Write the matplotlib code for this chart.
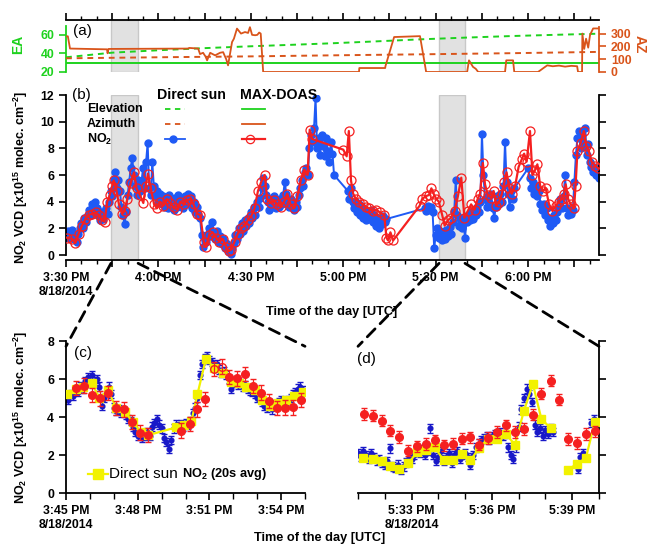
import numpy as np
import matplotlib
matplotlib.use('Agg')
import matplotlib.pyplot as plt
import matplotlib.dates as mdates
from matplotlib.patches import ConnectionPatch
from matplotlib.ticker import FuncFormatter, FixedLocator

plt.rcParams['font.family'] = ['Liberation Sans', 'DejaVu Sans']
plt.rcParams['mathtext.fontset'] = 'custom'
plt.rcParams['mathtext.rm'] = 'Liberation Sans'
plt.rcParams['mathtext.bf'] = 'Liberation Sans:bold'
plt.rcParams['mathtext.it'] = 'Liberation Sans:italic'

# ---------------- DATA ----------------
BASE_B = np.datetime64('2014-08-18T15:30')   # panel (a)/(b) time origin (minutes)
BASE_C = np.datetime64('2014-08-18T15:45')   # panel (c)
BASE_D = np.datetime64('2014-08-18T17:31')   # panel (d)

# (a) MAX-DOAS elevation (constant) and direct-sun elevation / azimuth
maxdoas_ea_t = [0, 173]
maxdoas_ea = [30, 30]
sun_ea_t = [0, 15, 30, 45, 60, 75, 86, 100, 115, 130, 145, 160, 173]
sun_ea = [35.9, 40.9, 43.5, 45.8, 47.8, 49.6, 51.0, 53.0, 55.3, 57.2, 58.9, 60.3, 61.4]
sun_az_t = [0, 30, 60, 86, 115, 145, 173]
sun_az = [107, 115, 122, 130, 138, 147, 157]
maxdoas_az_t = [0, 0.6, 1.3, 13.3, 13.5, 13.8, 39.6, 40, 42.9, 43.5, 44.5, 45.3, 45.8, 46.8,
                48.4, 50, 51, 52, 52.6, 53.9, 54.5, 55.5, 56.8, 58.1, 59.1, 59.7, 60.4, 61.4,
                62.1, 62.7, 63.2, 64, 95.1, 95.2, 103.6, 103.7, 106.5, 114.9, 116.9, 130.2,
                130.8, 132.1, 133, 133.8, 142.5, 142.9, 145.1, 145.5, 153.2, 156.2, 158, 160,
                162, 164, 165.9, 166.2, 167.5, 167.6, 168.2, 168.8, 169.5, 170.1, 171.1, 173]
maxdoas_az = [279, 279, 183, 177, 146, 180, 183, 188, 183, 140, 150, 120, 91, 150,
              130, 150, 155, 100, 52, 234, 260, 339, 300, 312, 305, 350, 290, 287,
              290, 308, 300, 0, 0, 31, 31, 47, 273, 280, 0, 0,
              91, 40, 25, 0, 0, 91, 91, 0, 0, 52, 45, 50,
              42, 48, 45, 0, 0, 300, 180, 260, 190, 290, 340, 340]

# (b) direct sun NO2 VCD, segments sampled every 0.5 min
ds_seg_start = [0.0, 91.5, 116.5, 150.0]
ds_seg_vals = [
    [1.5, 1.8, 1.3, 1.6, 1.9, 1.2, 1.4, 1.0, 1.6, 2.0, 2.4, 2.0, 2.8, 2.5, 3.0, 3.4, 3.0, 3.8,
     3.2, 4.0, 3.5, 3.0, 2.6, 3.2, 2.7, 3.3, 3.5, 3.1, 4.0, 4.8, 4.4, 5.6, 6.2, 5.0, 5.6, 4.8,
     3.6, 3.0, 2.3, 3.2, 4.5, 5.5, 6.5, 7.3, 6.0, 5.2, 4.5, 5.6, 4.8, 5.5, 6.5, 5.0, 7.0, 8.4,
     5.0, 4.5, 7.0, 5.2, 4.4, 4.8, 4.0, 4.6, 3.8, 4.4, 3.6, 4.2, 3.5, 4.5, 3.8, 4.0, 3.4, 4.3,
     3.6, 4.5, 3.8, 4.2, 3.5, 4.4, 3.9, 4.6, 3.8, 4.4, 3.5, 4.0, 3.2, 3.6, 3.0, 2.8, 1.5, 0.6,
     1.2, 1.0, 1.6, 2.0, 1.4, 2.5, 1.6, 1.2, 1.8, 1.0, 1.4, 0.8, 1.2, 0.5, 0.9, 0.3, 0.7, 0.1,
     0.5, 0.9, 1.5, 1.2, 2.0, 1.6, 2.4, 1.8, 2.6, 2.2, 2.8, 2.4, 3.2, 2.8, 3.6, 3.0, 4.0, 3.6,
     4.3, 5.0, 5.8, 5.2, 4.5, 4.0, 3.4, 4.2, 3.6, 4.4, 3.5, 4.0, 3.6, 4.2, 3.8, 4.5, 5.5, 4.6,
     4.0, 3.6, 4.2, 3.7, 3.4, 4.0, 3.6, 4.5, 5.0, 5.6, 5.2, 6.2, 6.5, 6.0, 8.0, 9.0, 8.5, 9.5,
     11.8, 8.0, 8.8, 7.5, 9.0, 8.2, 7.4, 8.8, 7.8, 7.0, 8.5, 7.6, 6.0],
    [4.8, 4.2, 5.0, 4.0, 3.5, 4.0, 3.2, 3.8, 3.0, 3.6, 2.8, 3.4, 2.6, 3.2, 2.7, 3.4, 2.5, 3.0,
     2.2, 2.8, 2.0, 2.6, 2.3, 2.9, 2.5, 2.7],
    [3.5, 3.3, 3.7, 3.4, 3.6, 3.2, 0.5, 1.5, 2.0, 1.3, 1.8, 1.1, 1.6, 1.2, 1.9, 1.4, 2.1, 1.6,
     2.5, 3.2, 5.6, 3.0, 2.2, 2.8, 2.0, 2.6, 1.3, 2.5, 3.0, 2.6, 3.2, 2.7, 3.4, 3.0, 3.6, 3.2,
     4.0, 9.1, 6.0, 4.2, 3.6, 4.4, 3.8, 4.6, 3.5, 2.8, 3.6, 4.4, 3.8, 4.6, 4.0, 5.2, 8.5, 5.5,
     4.6, 3.6, 4.8, 4.2, 5.0],
    [6.5, 5.8, 5.0, 5.5, 4.6, 5.2, 4.4, 4.8, 3.8, 3.4, 3.8, 3.0, 3.5, 2.6, 2.2, 2.8, 2.4, 3.0,
     2.6, 3.2, 3.6, 4.2, 3.5, 4.4, 6.0, 3.5, 3.0, 3.4, 3.1, 3.4, 5.5, 7.5, 8.8, 9.3, 8.0, 9.0,
     8.2, 9.5, 7.5, 8.3, 7.0, 6.6, 6.2, 6.6, 6.0, 6.4, 5.8],
]

# (b) MAX-DOAS NO2 VCD
md_t = [0.3, 2.0, 3.0, 4.1, 5.2, 6.3, 7.4, 8.5, 9.6, 10.7, 11.7, 12.5, 13.4, 14.2, 15.0, 15.5,
        16.4, 17.2, 18.3, 19.0, 19.9, 21.0, 22.1, 22.9, 24.0, 25.1, 25.9, 26.6, 27.5, 28.6,
        29.5, 30.5, 31.6, 32.7, 33.8, 34.9, 36.0, 37.1, 38.2, 39.2, 40.3, 41.4, 42.5, 43.6,
        44.7, 45.4, 46.5, 47.6, 48.7, 49.8, 50.9, 52.0, 52.8, 53.6, 54.7, 55.8, 56.8, 57.9,
        59.0, 60.1, 61.2, 62.3, 63.4, 64.5, 65.3, 66.4, 67.5, 68.6, 69.7, 70.8, 71.8, 72.9,
        74.0, 75.1, 76.2, 77.3, 78.4, 79.1, 79.9, 90.0, 91.1, 91.8, 92.5, 93.2, 94.1, 95.2,
        96.3, 97.3, 98.4, 99.5, 100.6, 101.9, 103.3, 104.0, 104.5, 105.3, 106.2, 114.8, 115.6,
        116.7, 117.8, 118.6, 119.3, 120.2, 121.0, 122.1, 122.9, 123.9, 125.0, 126.1, 127.2,
        128.3, 129.3, 130.4, 131.5, 132.6, 133.6, 134.4, 135.3, 136.0, 136.9, 138.0, 138.8,
        139.6, 140.6, 141.5, 142.3, 143.0, 143.9, 144.7, 145.8, 146.9, 148.0, 148.7, 149.5,
        150.6, 151.4, 152.3, 153.0, 153.9, 154.9, 155.7, 156.8, 157.9, 159.0, 160.0, 160.9,
        161.7, 162.2, 163.0, 163.8, 164.9, 165.4, 166.0, 167.0, 168.1, 168.9, 169.7, 170.6,
        171.7, 172.8]
md_v = [1.3, 1.2, 0.9, 1.6, 2.2, 2.7, 3.0, 3.1, 3.2, 3.0, 2.6, 2.5, 4.0, 4.5, 5.2, 5.6,
        4.8, 3.8, 3.1, 3.3, 4.2, 5.4, 6.2, 5.0, 4.5, 3.9, 5.2, 6.1, 5.0, 3.8,
        3.5, 4.0, 3.7, 4.2, 3.9, 3.6, 3.4, 4.0, 3.8, 4.1, 4.2, 3.8, 3.1, 3.0,
        1.0, 0.6, 1.5, 1.7, 1.3, 1.0, 1.2, 0.6, 0.3, 0.4, 1.0, 1.6, 2.0, 2.2,
        2.6, 2.9, 3.5, 4.8, 5.5, 6.0, 4.2, 3.9, 4.1, 3.8, 3.6, 4.0, 4.6, 3.8,
        3.5, 4.4, 5.6, 6.4, 6.0, 9.4, 8.7, 7.9, 7.4, 9.3, 5.6, 4.6, 4.2, 4.0,
        3.8, 3.6, 3.5, 3.3, 3.4, 3.2, 3.0, 1.3, 1.1, 1.7, 1.1, 3.7, 4.2,
        4.4, 4.5, 5.0, 4.6, 4.2, 4.0, 3.0, 2.2, 2.6, 2.8, 3.3, 4.4,
        5.8, 2.8, 3.3, 3.8, 3.4, 4.2, 4.6, 6.9, 5.3, 4.5, 4.3, 4.8,
        3.7, 4.0, 4.6, 5.5, 6.2, 5.0, 4.6, 5.2, 6.6, 7.2, 7.6, 7.0,
        9.3, 6.0, 6.4, 6.8, 5.2, 4.8, 5.0, 3.8, 3.3, 3.7, 4.0, 4.2,
        4.6, 5.3, 4.2, 3.8, 3.5, 5.2, 7.8, 8.4, 9.3, 8.2, 7.8, 7.0,
        6.7, 6.5]

shade_start = [14.6, 121.1]
shade_end = [23.4, 129.5]

# (c) zoom 15:45-15:55 ; direct sun sampled every 0.1 min
c_ds_start = 0.0
c_ds = [5.0, 4.9, 5.2, 5.1, 5.4, 5.3, 5.6, 5.5, 5.9, 6.1, 5.8, 6.2, 5.9, 6.0, 5.6, 4.6, 5.0, 5.3,
        5.6, 5.2, 4.5, 4.3, 4.4, 4.2, 4.3, 4.1, 3.9, 3.8, 3.5, 3.2, 3.0, 3.1, 2.9, 3.0, 3.2, 3.0,
        3.5, 3.7, 3.9, 3.6, 3.4, 2.9, 2.7, 2.3, 2.8, 3.4, 3.6, 3.5, 3.6, 3.5, 3.7, 3.6, 3.8, 4.2,
        4.5, 5.0, 6.2, 6.8, 7.1, 7.2, 7.0, 6.9, 6.7, 6.8, 6.5, 6.3, 6.4, 6.2, 6.0, 5.5, 5.8, 5.9,
        5.7, 5.8, 5.6, 5.7, 5.5, 5.4, 5.3, 5.2, 5.0, 5.1, 4.8, 4.6, 4.5, 4.6, 4.4, 4.6, 4.7, 4.8,
        4.9, 4.8, 4.7, 4.9, 5.0, 5.2, 5.3, 5.5, 5.6, 5.4]
c_avg_t = [0.05, 0.4, 0.73, 1.07, 1.4, 1.75, 2.1, 2.45, 2.8, 3.12, 3.45, 4.6, 4.95, 5.25, 5.5,
           5.85, 6.2, 6.55, 6.9, 7.25, 7.55, 7.9, 8.2, 8.55, 8.85, 9.2, 9.55, 9.9]
c_avg = [5.2, 5.45, 5.6, 5.8, 5.0, 5.4, 4.5, 4.25, 3.75, 3.2, 3.05, 3.45, 3.6, 3.8, 5.2,
         7.05, 6.6, 6.3, 5.85, 5.8, 5.6, 5.4, 4.9, 4.6, 4.75, 4.9, 5.1, 5.3]
c_md_t = [0.42, 0.75, 1.07, 1.42, 1.76, 2.11, 2.43, 2.76, 3.1, 3.43, 4.82, 5.17, 5.5, 5.83,
          6.83, 7.17, 7.5, 7.83, 8.17, 8.5, 8.82, 9.15, 9.5, 9.83]
c_md = [5.54, 5.65, 5.16, 4.98, 5.25, 4.46, 4.40, 3.75, 3.18, 3.05, 3.28, 3.63, 4.4, 4.95,
        6.12, 6.03, 6.25, 5.63, 5.28, 4.84, 4.46, 4.49, 4.51, 4.89]
c_md_open_t = [6.18, 6.51]
c_md_open = [6.53, 6.65]

# (d) zoom 17:31-17:40
d_ds_t = [0.0, 0.1, 0.2, 0.3, 0.4, 0.5, 0.6, 0.7, 0.8, 0.9, 1.0, 1.1, 1.2, 1.3, 1.4, 1.5, 1.6,
          1.7, 1.8, 1.9, 2.0, 2.1, 2.2, 2.3, 2.4, 2.5, 2.6, 2.7, 2.8, 2.9, 3.0, 3.1, 3.2, 3.3,
          3.4, 3.5, 3.6, 3.7, 3.8, 3.9, 4.0, 4.1, 4.2, 4.3, 4.4, 4.5, 4.6, 4.7, 4.8, 4.9, 5.0,
          5.1, 5.2, 5.3, 5.4, 5.5, 5.6, 5.7, 5.8, 5.9, 6.0, 6.1, 6.2, 6.3, 6.4, 6.5, 6.6, 6.7,
          6.8, 6.9, 7.0, 7.1, 7.2, 7.3, 8.2, 8.3, 8.4, 8.7, 8.8, 8.9]
d_ds = [2.1, 1.9, 2.2, 2.0, 1.8, 2.1, 1.9, 1.7, 1.8, 1.6, 1.5, 1.7, 2.35, 1.4, 1.3, 1.5, 1.2,
        1.4, 1.6, 1.7, 1.8, 2.0, 2.2, 2.1, 2.3, 2.0, 2.2, 3.4, 2.0, 1.7, 1.9, 2.2, 1.7, 1.9,
        2.1, 1.6, 2.0, 2.2, 1.8, 2.0, 2.1, 1.9, 1.5, 2.0, 2.4, 2.6, 2.8, 2.9, 3.0, 2.8, 3.0,
        3.1, 2.9, 3.2, 3.0, 3.1, 2.4, 2.0, 1.8, 2.4, 3.5, 4.4, 5.0, 5.5, 5.2, 4.8, 3.6, 3.2,
        3.4, 3.0, 3.3, 3.1, 3.4, 3.2, 1.25, 1.9, 2.1, 3.7, 3.9, 3.6]
d_avg_t = [0.2, 0.55, 0.88, 1.21, 1.54, 1.88, 2.21, 2.54, 2.86, 3.21, 3.53, 3.87, 4.2, 4.53,
           4.86, 5.2, 5.52, 5.86, 6.19, 6.53, 6.85, 7.19, 7.85, 8.18, 8.51, 8.84]
d_avg = [1.84, 1.79, 1.67, 1.40, 1.28, 1.58, 2.14, 2.28, 2.40, 1.72, 1.72, 2.05, 1.72, 2.37,
         2.86, 2.86, 3.11, 2.54, 4.30, 5.74, 3.89, 3.42, 1.23, 1.54, 1.84, 3.72]
d_md_t = [0.22, 0.55, 0.88, 1.21, 1.54, 1.88, 2.21, 2.54, 2.86, 3.21, 3.53, 3.87, 4.2, 4.53,
          4.86, 5.2, 5.52, 5.86, 6.19, 6.53, 6.85, 7.19, 7.51, 7.85, 8.18, 8.51, 8.84]
d_md = [4.16, 4.07, 3.81, 3.28, 2.95, 2.23, 2.46, 2.58, 2.77, 2.51, 2.60, 2.86, 2.93, 2.54,
        2.89, 3.21, 3.56, 3.21, 3.37, 4.12, 5.23, 5.91, 4.91, 2.84, 2.63, 3.11, 3.25]

# ---------------- helpers ----------------
def tm(base, minutes):
    m = np.asarray(minutes, dtype=float)
    return base + (m * 60000).round().astype('timedelta64[ms]')

DAY0 = mdates.date2num(np.datetime64('2014-08-18T00:00'))

def make_fmt(first_min_of_day, every):
    def f(x, pos):
        m = int(round((x - DAY0) * 1440))
        if m % every:
            return ''
        h, mm = divmod(m, 60)
        s = f'{h - 12 if h > 12 else h}:{mm:02d} PM'
        if m == first_min_of_day:
            s += '\n8/18/2014'
        return s
    return f

GREEN = '#1ED21E'
ORANGE = '#D9541A'
BLUE_B = '#1F5AF5'
RED = '#F52020'
BLUE_C = '#1818C8'
YELLOW = '#F2F200'
TICKFS = 8.8
LABFS = 9.0

fig = plt.figure(figsize=(6.47, 5.45), dpi=100)
W, H = 647.0, 545.0
def rect(x0, x1, ytop, ybot):
    return [x0 / W, 1 - ybot / H, (x1 - x0) / W, (ybot - ytop) / H]

ax_a = fig.add_axes(rect(66, 599, 20, 72))
ax_b = fig.add_axes(rect(66, 599, 95, 260))
ax_c = fig.add_axes(rect(66, 305, 341, 493))
ax_d = fig.add_axes(rect(358, 599, 341, 493))

xlim_b = (tm(BASE_B, 0), tm(BASE_B, 173))

# ---------- panel (a) ----------
ax_a2 = ax_a.twinx()
for s in range(len(shade_start)):
    ax_a.axvspan(tm(BASE_B, shade_start[s]), tm(BASE_B, shade_end[s]), color='#e1e1e1', ec='#c8c8c8', lw=1, zorder=0)
ax_a.plot(tm(BASE_B, maxdoas_ea_t), maxdoas_ea, color=GREEN, lw=1.4)
ax_a.plot(tm(BASE_B, sun_ea_t), sun_ea, color=GREEN, lw=1.4, ls=(0, (3, 2.5)))
ax_a2.plot(tm(BASE_B, sun_az_t), sun_az, color=ORANGE, lw=1.4, ls=(0, (3, 2.5)))
ax_a2.plot(tm(BASE_B, maxdoas_az_t), maxdoas_az, color=ORANGE, lw=1.3)
ax_a.set_xlim(*xlim_b)
ax_a.set_ylim(20, 76.2)
ax_a2.set_ylim(0, 406)
ax_a.set_yticks([20, 40, 60])
ax_a2.set_yticks([0, 100, 200, 300])
for sp in ['bottom']:
    ax_a.spines[sp].set_visible(False)
    ax_a2.spines[sp].set_visible(False)
ax_a2.spines['top'].set_visible(False)
ax_a2.spines['left'].set_visible(False)
ax_a.spines['right'].set_visible(False)
ax_a.spines['left'].set_color(GREEN)
ax_a.spines['left'].set_bounds(20, 70)
ax_a.spines['left'].set_linewidth(1.3)
ax_a2.spines['right'].set_color(ORANGE)
ax_a2.spines['right'].set_bounds(0, 350)
ax_a2.spines['right'].set_linewidth(1.3)
ax_a.spines['top'].set_linewidth(1.3)
ax_a.tick_params(axis='y', colors=GREEN, labelsize=TICKFS, width=1.2, length=5)
ax_a2.tick_params(axis='y', colors=ORANGE, labelsize=TICKFS, width=1.2, length=5)
for lab in ax_a.get_yticklabels():
    lab.set_fontweight('bold')
for lab in ax_a2.get_yticklabels():
    lab.set_fontweight('bold')
ax_a.xaxis.tick_top()
ax_a.xaxis.set_major_locator(mdates.MinuteLocator(byminute=[0, 15, 30, 45]))
ax_a.xaxis.set_minor_locator(mdates.MinuteLocator(byminute=range(0, 60, 5)))
ax_a.xaxis.set_major_formatter(FuncFormatter(lambda x, p: ''))
ax_a.tick_params(axis='x', which='major', length=5, width=1.2, top=True, bottom=False)
ax_a.tick_params(axis='x', which='minor', length=3, width=1.0, top=True, bottom=False)
ax_a2.tick_params(axis='x', which='both', bottom=False, top=False, labelbottom=False)
ax_a.text(0.014, 0.78, '(a)', transform=ax_a.transAxes, fontsize=11, va='center')
fig.text(18 / W, 1 - 44 / H, 'EA', color=GREEN, fontsize=10, fontweight='bold', rotation=90, ha='center', va='center')
fig.text(640 / W, 1 - 44 / H, 'AZ', color=ORANGE, fontsize=10, fontweight='bold', rotation=270, ha='center', va='center')

# ---------- panel (b) ----------
for s in range(len(shade_start)):
    ax_b.axvspan(tm(BASE_B, shade_start[s]), tm(BASE_B, shade_end[s]), color='#e1e1e1', ec='#c8c8c8', lw=1, zorder=0)
ds_t_all, ds_v_all = [], []
for st, vals in zip(ds_seg_start, ds_seg_vals):
    ds_t_all.append(st + 0.5 * np.arange(len(vals)))
    ds_v_all.append(np.asarray(vals))
ds_t_all = np.concatenate(ds_t_all)
ds_v_all = np.concatenate(ds_v_all)
ax_b.plot(tm(BASE_B, ds_t_all), ds_v_all, color=BLUE_B, lw=1.4, marker='o', ms=5, mec=BLUE_B, zorder=2)
ax_b.plot(tm(BASE_B, md_t), md_v, color=RED, lw=1.6, marker='o', ms=6.5, mfc='none', mec=RED, mew=0.9, zorder=3)
ax_b.set_xlim(*xlim_b)
ax_b.set_ylim(-0.375, 12)
ax_b.set_yticks(range(0, 13, 2))
ax_b.spines['top'].set_visible(False)
ax_b.spines['left'].set_bounds(0, 12)
ax_b.spines['right'].set_bounds(0, 12)
for sp in ax_b.spines.values():
    sp.set_linewidth(1.3)
ax_b.tick_params(axis='y', labelsize=TICKFS, width=1.2, length=5, right=True, labelright=False)
ax_b.xaxis.set_major_locator(mdates.MinuteLocator(byminute=[0, 15, 30, 45]))
ax_b.xaxis.set_minor_locator(mdates.MinuteLocator(byminute=range(0, 60, 5)))
ax_b.xaxis.set_major_formatter(FuncFormatter(make_fmt(15 * 60 + 30, 30)))
ax_b.tick_params(axis='x', which='major', length=5, width=1.2, labelsize=TICKFS)
ax_b.tick_params(axis='x', which='minor', length=3, width=1.0)
for lab in ax_b.get_yticklabels() + ax_b.get_xticklabels():
    lab.set_fontweight('bold')
ylab = r'NO$_\mathbf{2}$ VCD [x10$^{\mathbf{15}}$ molec. cm$^{\mathbf{-2}}$]'
ax_b.set_ylabel(ylab, fontsize=LABFS, fontweight='bold')
ax_b.yaxis.set_label_coords(-36 / 533, 0.5)
fig.text(332 / W, 1 - 312 / H, 'Time of the day [UTC]', fontsize=9.2, fontweight='bold', ha='center', va='center')
ax_b.text(0.012, 1.0, '(b)', transform=ax_b.transAxes, fontsize=11, va='center')
# legend table
T = ax_b.transAxes
ax_b.text(0.171, 1.0, 'Direct sun', transform=T, fontsize=10.2, fontweight='bold', va='center')
ax_b.text(0.326, 1.0, 'MAX-DOAS', transform=T, fontsize=10.2, fontweight='bold', va='center')
ax_b.text(0.039, 0.915, 'Elevation', transform=T, fontsize=9, fontweight='bold', va='center')
ax_b.text(0.039, 0.824, 'Azimuth', transform=T, fontsize=9, fontweight='bold', va='center')
ax_b.text(0.039, 0.733, r'NO$_\mathbf{2}$', transform=T, fontsize=9, fontweight='bold', va='center')
ax_b.plot([0.186, 0.223], [0.915, 0.915], transform=T, color=GREEN, lw=1.3, ls=(0, (3, 2.5)))
ax_b.plot([0.186, 0.223], [0.824, 0.824], transform=T, color=ORANGE, lw=1.3, ls=(0, (3, 2.5)))
ax_b.plot([0.186, 0.223], [0.733, 0.733], transform=T, color=BLUE_B, lw=1.3)
ax_b.plot([0.200], [0.733], transform=T, color=BLUE_B, marker='o', ms=5)
ax_b.plot([0.331, 0.374], [0.915, 0.915], transform=T, color=GREEN, lw=1.3)
ax_b.plot([0.331, 0.374], [0.824, 0.824], transform=T, color=ORANGE, lw=1.3)
ax_b.plot([0.331, 0.374], [0.733, 0.733], transform=T, color=RED, lw=1.6)
ax_b.plot([0.345], [0.733], transform=T, color=RED, marker='o', ms=6, mfc='none', mew=0.9)

# ---------- panel (c) ----------
c_ds_t = c_ds_start + 0.1 * np.arange(len(c_ds))
ax_c.errorbar(tm(BASE_C, c_ds_t), c_ds, yerr=0.22, fmt='o', ms=3.4, color=BLUE_C, ecolor=BLUE_C, elinewidth=0.9, capsize=2, zorder=2)
ax_c.plot(tm(BASE_C, c_avg_t), c_avg, color=YELLOW, lw=1.6, marker='s', ms=6, zorder=3)
ax_c.errorbar(tm(BASE_C, c_md_t), c_md, yerr=0.38, fmt='o', ms=5.5, color=RED, ecolor=RED, elinewidth=0.9, capsize=2.5, zorder=4)
ax_c.errorbar(tm(BASE_C, c_md_open_t), c_md_open, yerr=0.38, fmt='o', ms=5.5, mfc='none', color=RED, ecolor=RED, elinewidth=0.9, capsize=2.5, zorder=4)
ax_c.set_xlim(tm(BASE_C, 0), tm(BASE_C, 10))
ax_c.set_ylim(0, 8)
ax_c.set_yticks(range(0, 9, 2))
ax_c.spines['top'].set_visible(False)
ax_c.spines['right'].set_visible(False)
for sp in ax_c.spines.values():
    sp.set_linewidth(1.3)
ax_c.xaxis.set_major_locator(FixedLocator(mdates.date2num(tm(BASE_C, [0, 3, 6, 9]))))
ax_c.xaxis.set_minor_locator(FixedLocator(mdates.date2num(tm(BASE_C, range(0, 11)))))
ax_c.xaxis.set_major_formatter(FuncFormatter(make_fmt(15 * 60 + 45, 1)))
ax_c.tick_params(axis='x', which='major', length=5, width=1.2, labelsize=TICKFS)
ax_c.tick_params(axis='x', which='minor', length=4, width=1.0)
ax_c.tick_params(axis='y', labelsize=TICKFS, width=1.2, length=5)
for lab in ax_c.get_yticklabels() + ax_c.get_xticklabels():
    lab.set_fontweight('bold')
ax_c.set_ylabel(ylab, fontsize=LABFS, fontweight='bold')
ax_c.yaxis.set_label_coords(-36 / 239, 0.5)
ax_c.text(0.035, 0.92, '(c)', transform=ax_c.transAxes, fontsize=11, va='center')
TC = ax_c.transAxes
ax_c.plot([0.09, 0.175], [0.125, 0.125], transform=TC, color=YELLOW, lw=1.6)
ax_c.plot([0.132], [0.125], transform=TC, color=YELLOW, marker='s', ms=7)
ax_c.text(0.178, 0.125, 'Direct sun', transform=TC, fontsize=11, va='center')
ax_c.text(0.485, 0.125, r'NO$_\mathbf{2}$ (20s avg)', transform=TC, fontsize=9.2, fontweight='bold', va='center')
fig.text(320 / W, 1 - 538 / H, 'Time of the day [UTC]', fontsize=9.2, fontweight='bold', ha='center', va='center')

# ---------- panel (d) ----------
ax_d.errorbar(tm(BASE_D, d_ds_t), d_ds, yerr=0.22, fmt='o', ms=3.4, color=BLUE_C, ecolor=BLUE_C, elinewidth=0.9, capsize=2, zorder=2)
d_avg_tt = np.asarray(d_avg_t)
seg1 = d_avg_tt < 7.5
ax_d.plot(tm(BASE_D, d_avg_tt[seg1]), np.asarray(d_avg)[seg1], color=YELLOW, lw=1.6, marker='s', ms=6, zorder=3)
ax_d.plot(tm(BASE_D, d_avg_tt[~seg1]), np.asarray(d_avg)[~seg1], color=YELLOW, lw=1.6, marker='s', ms=6, zorder=3)
ax_d.errorbar(tm(BASE_D, d_md_t), d_md, yerr=0.3, fmt='o', ms=5.5, color=RED, ecolor=RED, elinewidth=0.9, capsize=2.5, zorder=4)
ax_d.set_xlim(tm(BASE_D, 0), tm(BASE_D, 9))
ax_d.set_ylim(0, 8)
ax_d.set_yticks(range(0, 9, 2))
ax_d.spines['top'].set_visible(False)
ax_d.spines['left'].set_visible(False)
for sp in ax_d.spines.values():
    sp.set_linewidth(1.3)
ax_d.yaxis.tick_right()
ax_d.tick_params(axis='y', labelright=False, width=1.2, length=5)
ax_d.xaxis.set_major_locator(FixedLocator(mdates.date2num(tm(BASE_D, [2, 5, 8]))))
ax_d.xaxis.set_minor_locator(FixedLocator(mdates.date2num(tm(BASE_D, range(0, 10)))))
ax_d.xaxis.set_major_formatter(FuncFormatter(make_fmt(17 * 60 + 33, 1)))
ax_d.tick_params(axis='x', which='major', length=5, width=1.2, labelsize=TICKFS)
ax_d.tick_params(axis='x', which='minor', length=4, width=1.0)
for lab in ax_d.get_xticklabels():
    lab.set_fontweight('bold')
ax_d.text(-0.005, 0.88, '(d)', transform=ax_d.transAxes, fontsize=11, va='center')

# ---------- connector lines ----------
conns = [(ax_c, shade_start[0], 0.0), (ax_c, shade_end[0], 1.0),
         (ax_d, shade_start[1], 0.0), (ax_d, shade_end[1], 1.0)]
for axz, tmin, xf in conns:
    xa = mdates.date2num(tm(BASE_B, tmin))
    cp = ConnectionPatch(xyA=(xa, -0.02), coordsA=ax_b.get_xaxis_transform(),
                         xyB=(xf, 0.965), coordsB=axz.transAxes,
                         color='black', lw=2.0, ls=(0, (4, 2.6)))
    fig.add_artist(cp)

fig.savefig('out.png', dpi=100)
